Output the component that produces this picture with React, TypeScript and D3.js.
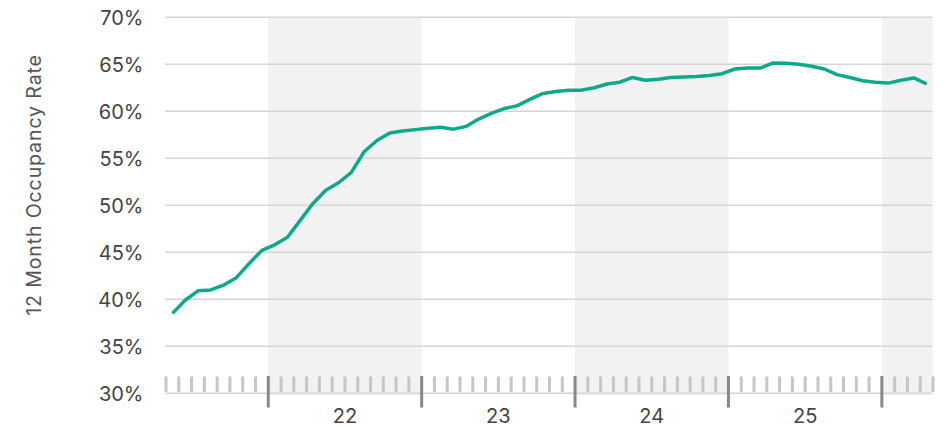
import React from 'react';
import * as d3 from 'd3';

// monthly 12 month occupancy, May 2021 .. Apr 2026
const startYear = 2021;
const startMonth = 4; // May (0-based)
const occupancy = [
  38.5, 39.9, 40.9, 41.0, 41.5, 42.3, 43.8, 45.2, 45.8, 46.6,
  48.4, 50.2, 51.6, 52.4, 53.5, 55.7, 56.9, 57.7, 57.9, 58.05,
  58.2, 58.3, 58.1, 58.4, 59.2, 59.8, 60.3, 60.6, 61.3, 61.9,
  62.1, 62.25, 62.25, 62.5, 62.9, 63.1, 63.6, 63.3, 63.4, 63.6,
  63.65, 63.7, 63.8, 64.0, 64.5, 64.6, 64.6, 65.15, 65.1, 65.0,
  64.8, 64.5, 63.9, 63.6, 63.25, 63.1, 63.0, 63.3, 63.55, 62.9,
];
const yTicks = [30, 35, 40, 45, 50, 55, 60, 65, 70];
const years = [2022, 2023, 2024, 2025, 2026];
const yearLabels = ['22', '23', '24', '25'];
const shadedYears = [2022, 2024, 2026];
const monthCount = 60;

const W = 947;
const H = 430;
const font = 'Inter, "Noto Sans", sans-serif';

const App = () => {
  const x = d3.scaleLinear().domain([0, monthCount]).range([166, 933]);
  const y = d3.scaleLinear().domain([30, 70]).range([393.3, 17.3]);

  // month index for Jan 1 of a year
  const yearIdx = (yr: number) => (yr - startYear) * 12 - startMonth;

  const line = d3.line<number>()
    .x((d, i) => x(i + 0.5))
    .y(d => y(d));

  const ticks = d3.range(0, monthCount + 1);
  const majors = years.map(yearIdx);

  return (
    <svg width={W} height={H} style={{ position: 'absolute', left: 0, top: 0 }}>
      {/* alternate year shading */}
      {shadedYears.map(yr => {
        const x0 = x(yearIdx(yr));
        const x1 = Math.min(x(yearIdx(yr + 1)), x.range()[1]);
        return (
          <rect key={yr} x={x0} y={y(70)} width={x1 - x0} height={395 - y(70)} fill="#f2f2f2" />
        );
      })}

      {/* grid */}
      {yTicks.map(t => (
        <line key={t} x1={165} x2={932} y1={y(t)} y2={y(t)} stroke="#d6d6d6" strokeWidth={1.5} />
      ))}
      {yTicks.map(t => (
        <text key={'l' + t} x={143.5} y={y(t)} dy="0.36em" textAnchor="end"
          fontFamily={font} fontSize={20} fill="#444">{t}%</text>
      ))}

      {/* month ticks */}
      {ticks.filter(i => !majors.includes(i)).map(i => (
        <line key={'m' + i} x1={x(i)} x2={x(i)} y1={376.5} y2={392} stroke="#c6c6c6" strokeWidth={3} />
      ))}
      {majors.map(i => (
        <line key={'M' + i} x1={x(i)} x2={x(i)} y1={376} y2={407.5} stroke="#888" strokeWidth={3} />
      ))}
      {yearLabels.map((lbl, k) => {
        const yr = years[k];
        const cx = (x(yearIdx(yr)) + x(yearIdx(yr + 1))) / 2;
        return (
          <text key={lbl} x={cx} y={423} textAnchor="middle"
            fontFamily={font} fontSize={20} fill="#444">{lbl}</text>
        );
      })}

      <text transform="translate(41,185) rotate(-90)" textAnchor="middle"
        fontFamily={font} fontSize={19.5} letterSpacing={0.9} fill="#555">12 Month Occupancy Rate</text>

      <path d={line(occupancy) || ''} fill="none" stroke="#0ea98a" strokeWidth={3.5}
        strokeLinejoin="round" />
    </svg>
  );
};

export default App;
